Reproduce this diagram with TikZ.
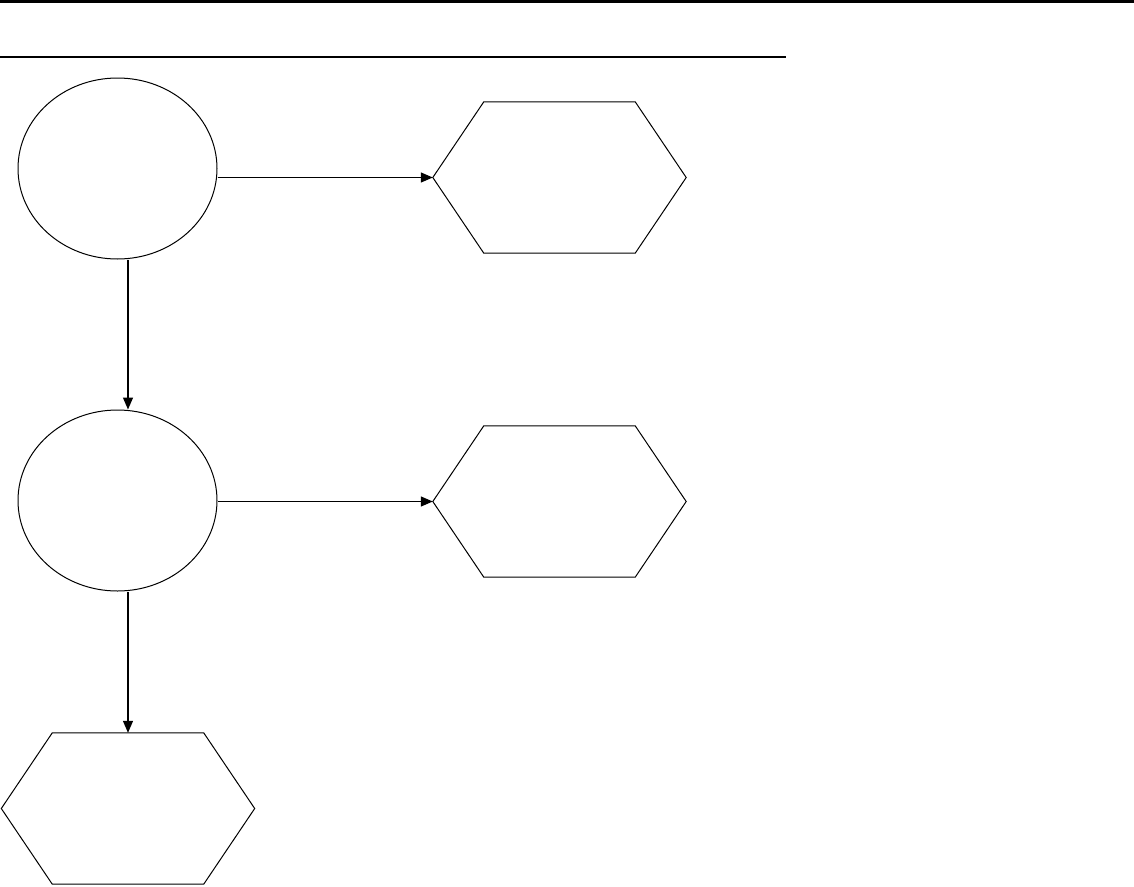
\documentclass[tikz,border=0pt]{standalone}
\usetikzlibrary{shapes.geometric,arrows.meta}
\newcommand\hexpath[1]{\draw[line width=1pt,line join=miter] (#1.west) -- ([xshift=51pt]#1.north west) -- ([xshift=-51pt]#1.north east) -- (#1.east) -- ([xshift=-51pt]#1.south east) -- ([xshift=51pt]#1.south west) -- cycle;}
\begin{document}
\begin{tikzpicture}[x=1pt,y=-1pt,
  oval/.style={ellipse,draw,line width=1pt,minimum width=199pt,minimum height=181pt,inner sep=0pt},
  hexbox/.style={rectangle,minimum width=253pt,minimum height=151pt,inner sep=0pt},
  conn/.style={line width=1.3pt,-{Triangle[length=12pt,width=10pt]}},
  rulethick/.style={line width=2.7pt},
  rulethin/.style={line width=2pt}]
\useasboundingbox (0,0) rectangle (1134,886);
\draw[rulethick] (0,1.3) -- (1134,1.3);
\draw[rulethin] (0,57) -- (786,57);
\node[oval] (e1) at (117.5,168.5) {};
\node[oval] (e2) at (117.5,500.5) {};
\node[hexbox] (h1) at (559.5,177.5) {};
\node[hexbox] (h2) at (559.5,501.5) {};
\node[hexbox] (h3) at (128,808.5) {};
\hexpath{h1}
\hexpath{h2}
\hexpath{h3}
\draw[conn] (h1.west -| e1.east) -- (h1.west);
\draw[conn] (h2.west -| e2.east) -- (h2.west);
\draw[conn] (e1.south -| h3.north) -- (e2.north -| h3.north);
\draw[conn] (e2.south -| h3.north) -- (h3.north);
\end{tikzpicture}
\end{document}
